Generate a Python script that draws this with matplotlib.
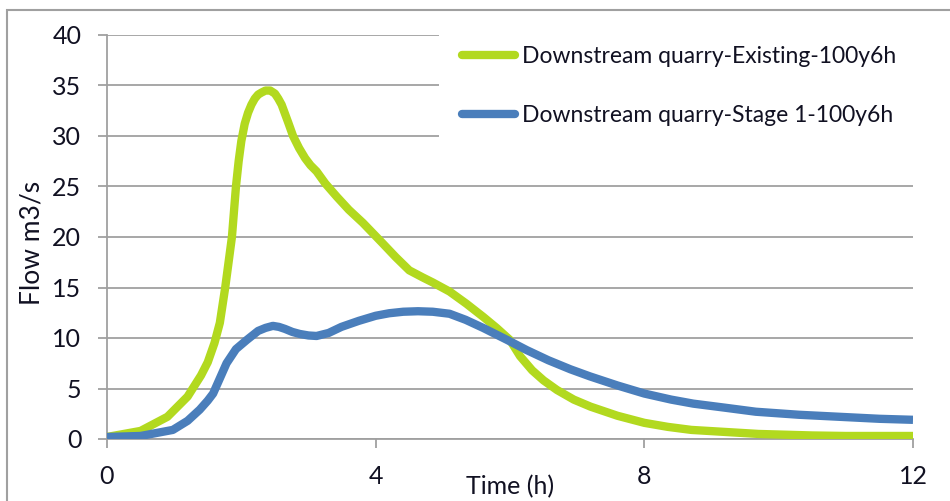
import numpy as np
import matplotlib
matplotlib.use('Agg')
import matplotlib.pyplot as plt
from matplotlib.patches import Rectangle

# values
time_existing = [0, 0.5, 0.9, 1.2, 1.4, 1.5, 1.6, 1.68, 1.76, 1.82, 1.86, 1.92, 1.96, 2.0,
                 2.05, 2.1, 2.15, 2.2, 2.25, 2.3, 2.36, 2.43, 2.5, 2.55, 2.6, 2.65, 2.7,
                 2.77, 2.86, 2.95, 3.03, 3.12, 3.25, 3.42, 3.6, 3.81, 4.1, 4.3, 4.5, 4.7,
                 4.85, 5.1, 5.35, 5.6, 5.8, 6.0, 6.15, 6.33, 6.5, 6.7, 6.95, 7.2, 7.6, 8.0,
                 8.35, 8.7, 9.2, 9.7, 10.5, 11.0, 12.0]
flow_existing = [0.2, 0.8, 2.2, 4.2, 6.3, 7.6, 9.5, 11.5, 15, 18, 20, 25, 27.5, 29.5,
                 31.2, 32.3, 33.1, 33.7, 34.1, 34.3, 34.5, 34.5, 34.2, 33.7, 33.1, 32.2, 31.3,
                 30, 28.8, 27.8, 27.1, 26.5, 25.3, 24, 22.7, 21.4, 19.4, 18, 16.7, 16.0,
                 15.5, 14.6, 13.4, 12.1, 11, 9.8, 8.2, 6.8, 5.8, 4.85, 3.9, 3.2, 2.3, 1.6,
                 1.2, 0.9, 0.7, 0.5, 0.35, 0.3, 0.3]

time_stage1 = [0, 0.5, 0.98, 1.2, 1.38, 1.5, 1.58, 1.68, 1.78, 1.92, 2.08, 2.25, 2.36, 2.47,
               2.56, 2.65, 2.76, 2.87, 3.0, 3.12, 3.3, 3.49, 3.75, 4.0, 4.2, 4.41, 4.63,
               4.85, 5.1, 5.34, 5.6, 5.96, 6.25, 6.57, 6.9, 7.19, 7.6, 8.0, 8.4, 8.73, 9.2,
               9.66, 10.3, 10.9, 11.5, 12.0]
flow_stage1 = [0.2, 0.3, 0.9, 1.8, 2.9, 3.8, 4.5, 6.0, 7.5, 8.9, 9.8, 10.7, 11.0, 11.2,
               11.1, 10.9, 10.6, 10.4, 10.25, 10.2, 10.5, 11.1, 11.7, 12.2, 12.45, 12.6, 12.65,
               12.6, 12.4, 11.8, 11.0, 9.8, 8.8, 7.8, 6.9, 6.2, 5.3, 4.5, 3.9, 3.5, 3.1,
               2.7, 2.4, 2.2, 2.0, 1.9]

labels = ['Downstream quarry-Existing-100y6h', 'Downstream quarry-Stage 1-100y6h']
colors = ['#b2d91f', '#4a7ebb']
x_ticks = [0, 4, 8, 12]
y_ticks = [0, 5, 10, 15, 20, 25, 30, 35, 40]

plt.rcParams['font.family'] = ['Lato', 'DejaVu Sans']
grey = '#a0a0a0'
txt = '#111122'

fig = plt.figure(figsize=(9.5, 5.01), dpi=100)
ax = fig.add_axes([107/950, 1-439/501, (913-107)/950, (439-35)/501])

ax.plot(time_existing, flow_existing, color=colors[0], lw=6, label=labels[0],
        solid_joinstyle='round', solid_capstyle='butt', zorder=3)
ax.plot(time_stage1, flow_stage1, color=colors[1], lw=6, label=labels[1],
        solid_joinstyle='round', solid_capstyle='butt', zorder=3)

ax.set_xlim(0, 12)
ax.set_ylim(0, 40)
ax.set_xticks(x_ticks)
ax.set_yticks(y_ticks)
ax.grid(axis='y', color=grey, lw=1.3)
ax.set_axisbelow(True)
for s in ['top', 'right']:
    ax.spines[s].set_visible(False)
for s in ['left', 'bottom']:
    ax.spines[s].set_color(grey)
    ax.spines[s].set_linewidth(1.3)
ax.tick_params(axis='both', direction='out', length=6.5, width=1.3, color=grey,
               labelsize=18, labelcolor=txt)
ax.tick_params(axis='y', pad=12)
ax.tick_params(axis='x', pad=12)

ax.set_xlabel('Time (h)', fontsize=18, color=txt)
ax.xaxis.set_label_coords(0.5, -0.09)
ax.set_ylabel('Flow m3/s', fontsize=19, color=txt)
ax.yaxis.set_label_coords(-0.078, 0.485)

leg = ax.legend(loc='upper left', bbox_to_anchor=(439/950, 1-23/501),
                bbox_transform=fig.transFigure, fontsize=16.5, frameon=True,
                facecolor='white', edgecolor='none', framealpha=1, fancybox=False,
                handlelength=2.3, handletextpad=0.3, labelspacing=1.65, borderpad=1.0,
                borderaxespad=0)
for h in leg.get_lines():
    h.set_solid_capstyle('round')
for t in leg.get_texts():
    t.set_color(txt)

# outer chart border
fig.patches.append(Rectangle((7/950, -0.1), 1.2, 1.1 - 10/501, transform=fig.transFigure,
                             fill=False, edgecolor=grey, lw=1.5, clip_on=False))

fig.savefig('out.png', dpi=100)
